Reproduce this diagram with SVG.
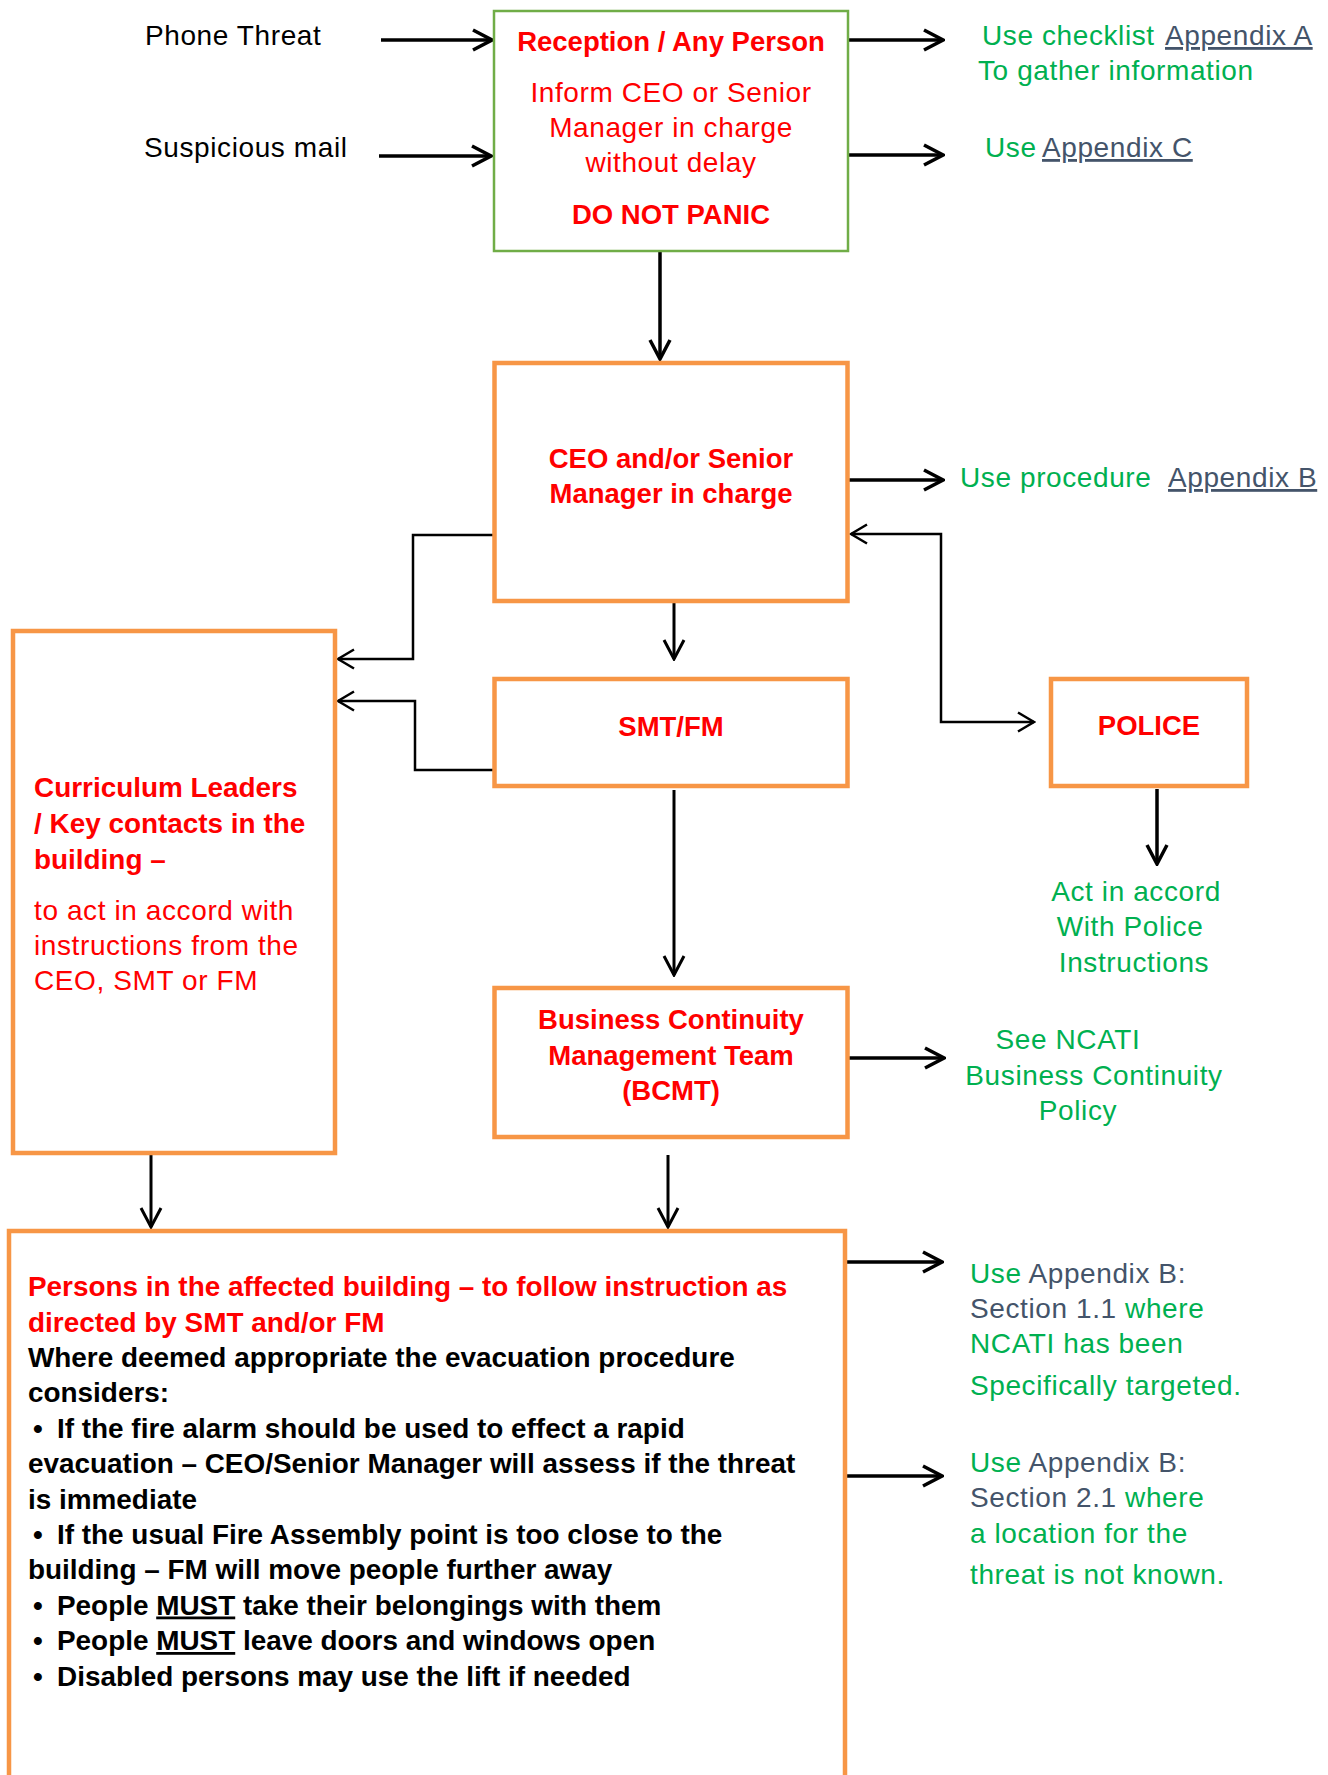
<svg xmlns="http://www.w3.org/2000/svg" width="1328" height="1775" viewBox="0 0 1328 1775">
<style>
text{font-family:"Liberation Sans",Arial,sans-serif}
.reg{font-size:28px;letter-spacing:0.6px}
.bold{font-size:27.5px;font-weight:bold}
.big{font-size:27.9px}
.mid{text-anchor:middle}
.red{fill:#FF0000}
.green{fill:#00B050}
.slate{fill:#44546A}
.blk{fill:#000000}
.ul{text-decoration:underline}
.box{fill:#FFFFFF;stroke:#F79646;stroke-width:4.5}
.boxg{fill:#FFFFFF;stroke:#70AD47;stroke-width:2.5}
.conn{fill:none;stroke:#000000;stroke-width:3.5}
.med{stroke-width:3}
.thin{stroke-width:2.5}
</style>
<defs>
<marker id="ah" viewBox="-24 -12 26 24" refX="0" refY="0" markerWidth="26" markerHeight="24" markerUnits="userSpaceOnUse" orient="auto">
<path d="M-19,-10 L0,0 L-19,10" fill="none" stroke="#000" stroke-width="3.5" stroke-linejoin="miter"/>
</marker>
<marker id="ahm" viewBox="-24 -12 26 24" refX="0" refY="0" markerWidth="26" markerHeight="24" markerUnits="userSpaceOnUse" orient="auto">
<path d="M-19,-10 L0,0 L-19,10" fill="none" stroke="#000" stroke-width="3"/>
</marker>
<marker id="aht" viewBox="-24 -12 26 24" refX="0" refY="0" markerWidth="26" markerHeight="24" markerUnits="userSpaceOnUse" orient="auto-start-reverse">
<path d="M-16,-9.5 L0,0 L-16,9.5" fill="none" stroke="#000" stroke-width="2.5"/>
</marker>
</defs>
<rect width="1328" height="1775" fill="#FFFFFF"/>

<g id="connectors">
<path class="conn" d="M381,40 L492,40" marker-end="url(#ah)"/>
<path class="conn" d="M379,156 L491,156" marker-end="url(#ah)"/>
<path class="conn" d="M848,40 L943,40" marker-end="url(#ah)"/>
<path class="conn" d="M848,155 L943,155" marker-end="url(#ah)"/>
<path class="conn" d="M660,251 L660,359" marker-end="url(#ah)"/>
<path class="conn" d="M848,480 L943,480" marker-end="url(#ah)"/>
<path class="conn med" d="M674,555 L674,659" marker-end="url(#ahm)"/>
<path class="conn med" d="M674,790 L674,975" marker-end="url(#ahm)"/>
<path class="conn" d="M848,1058 L944,1058" marker-end="url(#ah)"/>
<path class="conn med" d="M668,1155 L668,1227" marker-end="url(#ahm)"/>
<path class="conn med" d="M151,1155 L151,1227" marker-end="url(#ahm)"/>
<path class="conn" d="M847,1262 L942,1262" marker-end="url(#ah)"/>
<path class="conn" d="M847,1476 L942,1476" marker-end="url(#ah)"/>
<path class="conn" d="M1157,789 L1157,864" marker-end="url(#ah)"/>
<path class="conn thin" d="M494,535 L413,535 L413,659 L338,659" marker-end="url(#aht)"/>
<path class="conn thin" d="M494,770 L415,770 L415,701 L338,701" marker-end="url(#aht)"/>
<path class="conn thin" d="M851,534 L941,534 L941,722 L1034,722" marker-start="url(#aht)" marker-end="url(#aht)"/>
</g>

<g id="phone-threat">
<text class="reg blk" x="145" y="45">Phone Threat</text>
</g>
<g id="suspicious-mail">
<text class="reg blk" x="144" y="157">Suspicious mail</text>
</g>

<g id="reception">
<rect class="boxg" x="494" y="11" width="354" height="240"/>
<text class="bold red mid" x="671" y="50.5">Reception / Any Person</text>
<text class="reg red mid" x="671" y="102">Inform CEO or Senior</text>
<text class="reg red mid" x="671" y="137">Manager in charge</text>
<text class="reg red mid" x="671" y="172">without delay</text>
<text class="bold red mid" x="671" y="224">DO NOT PANIC</text>
</g>

<g id="note-appendix-a">
<text class="reg" x="982" y="45"><tspan class="green">Use checklist </tspan><tspan class="slate ul" x="1165">Appendix A</tspan></text>
<text class="reg green" x="978" y="80">To gather information</text>
</g>
<g id="note-appendix-c">
<text class="reg" x="985" y="157"><tspan class="green">Use </tspan><tspan class="slate ul" x="1042">Appendix C</tspan></text>
</g>

<g id="ceo">
<rect class="box" x="494.5" y="363" width="353" height="238"/>
<text class="bold red mid" x="671" y="468">CEO and/or Senior</text>
<text class="bold red mid" x="671" y="503">Manager in charge</text>
</g>

<g id="note-appendix-b">
<text class="reg" x="960" y="487"><tspan class="green">Use procedure </tspan><tspan class="slate ul" x="1168">Appendix B</tspan></text>
</g>

<g id="smt-fm">
<rect class="box" x="494.5" y="679" width="353" height="107"/>
<text class="bold red mid" x="671" y="736">SMT/FM</text>
</g>

<g id="police">
<rect class="box" x="1051" y="679" width="196" height="107"/>
<text class="bold red mid" x="1149" y="735">POLICE</text>
</g>

<g id="police-note">
<text class="reg green mid" x="1136" y="901">Act in accord</text>
<text class="reg green mid" x="1130" y="936">With Police</text>
<text class="reg green mid" x="1134" y="972">Instructions</text>
</g>

<g id="curriculum">
<rect class="box" x="13" y="631" width="322" height="522"/>
<text class="bold big red" x="34" y="797">Curriculum Leaders</text>
<text class="bold big red" x="34" y="833">/ Key contacts in the</text>
<text class="bold big red" x="34" y="869">building –</text>
<text class="reg red" x="34" y="920">to act in accord with</text>
<text class="reg red" x="34" y="955">instructions from the</text>
<text class="reg red" x="34" y="990">CEO, SMT or FM</text>
</g>

<g id="bcmt">
<rect class="box" x="494.5" y="988" width="353" height="149"/>
<text class="bold red mid" x="671" y="1029">Business Continuity</text>
<text class="bold red mid" x="671" y="1065">Management Team</text>
<text class="bold red mid" x="671" y="1100">(BCMT)</text>
</g>

<g id="bcmt-note">
<text class="reg green mid" x="1068" y="1049">See NCATI</text>
<text class="reg green mid" x="1094" y="1085">Business Continuity</text>
<text class="reg green mid" x="1078" y="1120">Policy</text>
</g>

<g id="persons">
<rect class="box" x="9" y="1231" width="836" height="600"/>
<text class="bold big red" x="28" y="1296">Persons in the affected building – to follow instruction as</text>
<text class="bold big red" x="28" y="1331.5">directed by SMT and/or FM</text>
<text class="bold big blk" x="28" y="1367">Where deemed appropriate the evacuation procedure</text>
<text class="bold big blk" x="28" y="1402">considers:</text>
<text class="bold big blk" y="1437.5"><tspan x="33">•</tspan><tspan x="57">If the fire alarm should be used to effect a rapid</tspan></text>
<text class="bold big blk" x="28" y="1473">evacuation – CEO/Senior Manager will assess if the threat</text>
<text class="bold big blk" x="28" y="1508.5">is immediate</text>
<text class="bold big blk" y="1544"><tspan x="33">•</tspan><tspan x="57">If the usual Fire Assembly point is too close to the</tspan></text>
<text class="bold big blk" x="28" y="1579">building – FM will move people further away</text>
<text class="bold big blk" y="1614.5"><tspan x="33">•</tspan><tspan x="57">People </tspan><tspan class="ul">MUST</tspan><tspan> take their belongings with them</tspan></text>
<text class="bold big blk" y="1650"><tspan x="33">•</tspan><tspan x="57">People </tspan><tspan class="ul">MUST</tspan><tspan> leave doors and windows open</tspan></text>
<text class="bold big blk" y="1685.5"><tspan x="33">•</tspan><tspan x="57">Disabled persons may use the lift if needed</tspan></text>
</g>

<g id="note-section-1-1">
<text class="reg" x="970" y="1283"><tspan class="green">Use </tspan><tspan class="slate">Appendix B:</tspan></text>
<text class="reg" x="970" y="1318"><tspan class="slate">Section 1.1 </tspan><tspan class="green">where</tspan></text>
<text class="reg green" x="970" y="1353">NCATI has been</text>
<text class="reg green" x="970" y="1395">Specifically targeted.</text>
</g>

<g id="note-section-2-1">
<text class="reg" x="970" y="1472"><tspan class="green">Use </tspan><tspan class="slate">Appendix B:</tspan></text>
<text class="reg" x="970" y="1507"><tspan class="slate">Section 2.1 </tspan><tspan class="green">where</tspan></text>
<text class="reg green" x="970" y="1543">a location for the</text>
<text class="reg green" x="970" y="1584">threat is not known.</text>
</g>
</svg>
